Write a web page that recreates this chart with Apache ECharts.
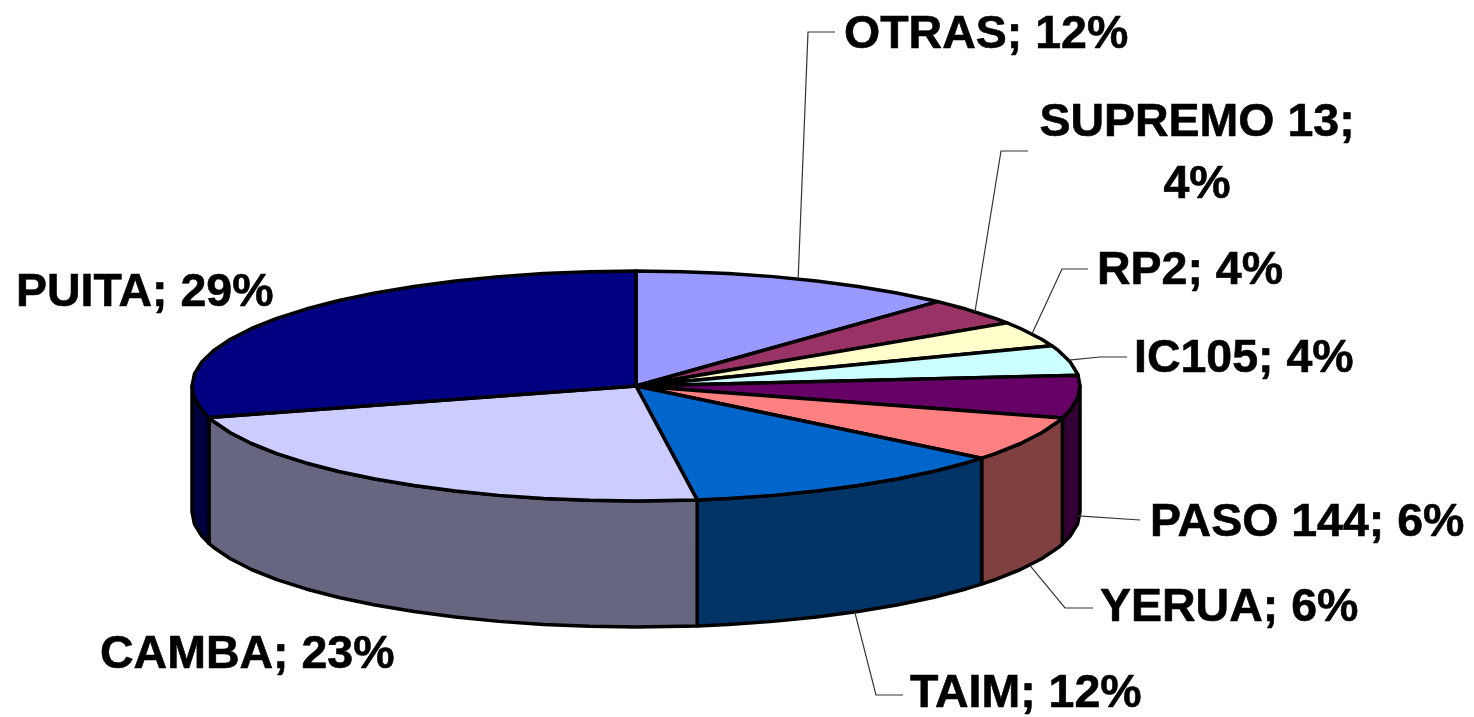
<!DOCTYPE html>
<html>
<head>
<meta charset="utf-8">
<style>
  html, body { margin: 0; height: 100%; background: #fff; }
  #chart { width: 1474px; height: 717px; }
</style>
<script src="https://cdn.jsdelivr.net/npm/echarts@6/dist/echarts.min.js"></script>
</head>
<body>
<div id="chart"></div>
<script>
const categories = ["OTRAS", "SUPREMO 13", "RP2", "IC105", "PASO 144", "YERUA", "TAIM", "CAMBA", "PUITA"];
const shares = [11.9, 3.85, 3.55, 4.2, 6, 6.3, 12, 22.8, 29.4];
const topColors = ["#9999FF", "#993366", "#FFFFCC", "#CCFFFF", "#660066", "#FF8080", "#0066CC", "#CCCCFF", "#000080"];
const sideColors = ["#4C4C80", "#4C1A33", "#808066", "#668080", "#330033", "#804040", "#003366", "#666680", "#000040"];

// pie projection
const cx = 636, cy = 386, rx = 444, ry = 115, depth = 126;
const arcStep = 6;

// label anchors and leader elbows, same order as categories
const labelLayout = [
  { x: 844, y: 49, elbow: [[808, 32], [835, 32]] },
  { x: 1197, y: 137, align: "center", wrap: true, elbow: [[1001, 151], [1028, 151]] },
  { x: 1097, y: 285, elbow: [[1062, 269], [1088, 269]] },
  { x: 1134, y: 373, elbow: [[1100, 357], [1127, 357]] },
  { x: 1150, y: 537, elbow: [[1140, 520]], drop: 119 },
  { x: 1100, y: 622, elbow: [[1065, 608], [1093, 608]], drop: 126 },
  { x: 910, y: 708, elbow: [[876, 695], [903, 695]], drop: 126 },
  { x: 100, y: 669 },
  { x: 16, y: 307 }
];

const total = shares.reduce((a, b) => a + b, 0);
const startDeg = [];
shares.reduce((acc, v, i) => {
  startDeg[i] = (acc / total) * 360;
  return acc + v;
}, 0);

// angle is clockwise from 12 o'clock
const rim = (deg, dy = 0) => {
  const t = (deg * Math.PI) / 180;
  return [cx + rx * Math.sin(t), cy - ry * Math.cos(t) + dy];
};

const arcPoints = (from, to, dy = 0) => {
  const pts = [rim(from, dy)];
  let a = Math.ceil(from / arcStep + 1e-6) * arcStep;
  for (; a < to; a += arcStep) pts.push(rim(a, dy));
  pts.push(rim(to, dy));
  return pts;
};

const outline = { stroke: "#000", lineWidth: 3.5, lineJoin: "round" };

const renderWall = (params, api) => {
  const i = params.dataIndex;
  const a0 = startDeg[i];
  const a1 = a0 + (api.value(0) / total) * 360;
  const from = Math.max(a0, 90);
  const to = Math.min(a1, 270);
  if (from >= to) return null;
  const points = arcPoints(from, to).concat(arcPoints(from, to, depth).reverse());
  return {
    type: "polygon",
    shape: { points },
    style: { fill: sideColors[i], ...outline }
  };
};

const renderTop = (params, api) => {
  const i = params.dataIndex;
  const a0 = startDeg[i];
  const a1 = a0 + (api.value(0) / total) * 360;
  return {
    type: "polygon",
    shape: { points: [[cx, cy]].concat(arcPoints(a0, a1)) },
    style: { fill: topColors[i], ...outline }
  };
};

const renderLabel = (params, api) => {
  const i = params.dataIndex;
  const layout = labelLayout[i];
  const value = api.value(0);
  const mid = startDeg[i] + (value / total) * 180;
  const percent = Math.round(value);
  const children = [];
  if (layout.elbow) {
    const start = rim(mid, layout.drop || 0);
    children.push({
      type: "polyline",
      shape: { points: [start].concat(layout.elbow) },
      style: { stroke: "#333", lineWidth: 1.2, fill: null }
    });
  }
  const lines = layout.wrap
    ? [categories[i] + ";", percent + "%"]
    : [categories[i] + "; " + percent + "%"];
  lines.forEach((text, n) => {
    children.push({
      type: "text",
      style: {
        text,
        x: layout.x,
        y: layout.y + 9.5 + n * 62,
        fill: "#000",
        stroke: "#000",
        lineWidth: 0.6,
        font: 'bold 46.5px "Liberation Sans", Arial, sans-serif',
        textAlign: layout.align || "left",
        textVerticalAlign: "bottom"
      }
    });
  });
  return { type: "group", children };
};

const seriesData = shares.map((v, i) => ({ name: categories[i], value: [v] }));

const chart = echarts.init(document.getElementById("chart"));
chart.setOption({
  backgroundColor: "#fff",
  animation: false,
  series: [
    { type: "custom", coordinateSystem: "none", renderItem: renderWall, data: seriesData, z: 1 },
    { type: "custom", coordinateSystem: "none", renderItem: renderTop, data: seriesData, z: 2 },
    { type: "custom", coordinateSystem: "none", renderItem: renderLabel, data: seriesData, z: 3 }
  ]
});
</script>
</body>
</html>
